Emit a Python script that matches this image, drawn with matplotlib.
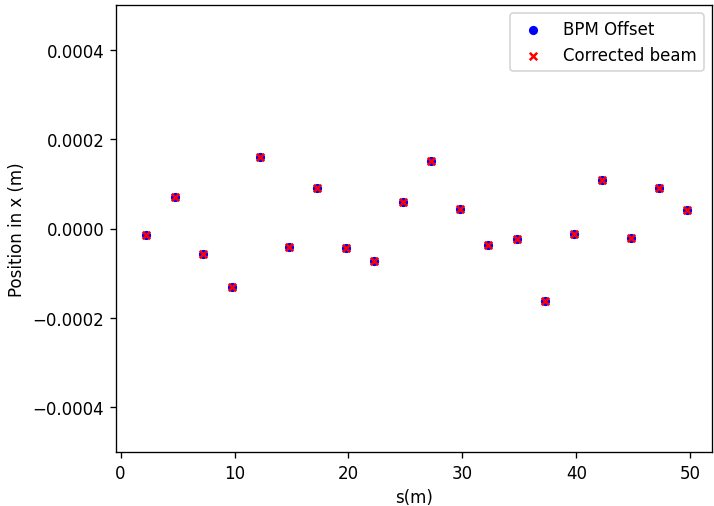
import matplotlib
matplotlib.use("Agg")
import matplotlib.pyplot as plt
import numpy as np

s_pos = [2.25, 4.75, 7.25, 9.75, 12.25, 14.75, 17.25, 19.75, 22.25, 24.75,
         27.25, 29.75, 32.25, 34.75, 37.25, 39.75, 42.25, 44.75, 47.25, 49.75]
bpm_offset = [-1.41e-5, 7.0e-5, -5.75e-5, -1.30e-4, 1.595e-4, -4.03e-5, 8.95e-5,
              -4.32e-5, -7.31e-5, 5.97e-5, 1.514e-4, 4.32e-5, -3.74e-5, -2.39e-5,
              -1.626e-4, -1.34e-5, 1.08e-4, -2.08e-5, 8.95e-5, 4.09e-5]
corrected = list(bpm_offset)

dpi = 120
fig = plt.figure(figsize=(714 / dpi, 507 / dpi), dpi=dpi)
ax = fig.add_axes([116/714, 1 - 453/507, (712 - 116)/714, (453 - 6)/507])
ax.scatter(s_pos, bpm_offset, color="blue", s=20, label="BPM Offset")
ax.scatter(s_pos, corrected, color="red", marker="x", s=20, label="Corrected beam")
ax.set_xlim(-0.4, 51.9)
ax.set_ylim(-0.0005, 0.0005)
ax.set_xlabel("s(m)")
ax.set_ylabel("Position in x (m)")
ax.legend(loc="upper right")
fig.savefig("out.png", dpi=dpi)
